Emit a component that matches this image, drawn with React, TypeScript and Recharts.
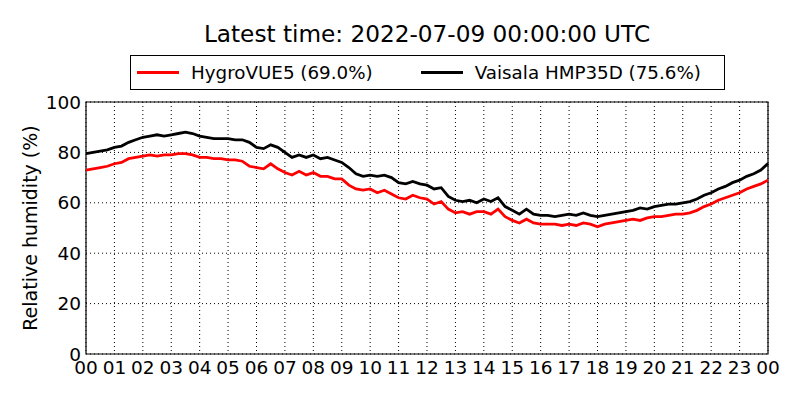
import { LineChart, Line, XAxis, YAxis, CartesianGrid, ReferenceArea } from "recharts";

// readings every 15 minutes from 00:00 to 24:00 UTC
const hygroVue = [
  73, 73.5, 74, 74.5, 75.5, 76, 77.5, 78,
  78.5, 79, 78.5, 79, 79, 79.5, 79.5, 79,
  78, 78, 77.5, 77.5, 77, 77, 76.5, 74.5,
  74, 73.5, 75.5, 73.5, 72, 71, 72.5, 71,
  72, 70.5, 70.5, 69.5, 69.5, 67, 65.5, 65,
  65.5, 64, 65, 63.5, 62, 61.5, 63, 62,
  61.5, 59.5, 60.5, 57.5, 56, 56.5, 55.5, 56.5,
  56.5, 55.5, 57.5, 54.5, 53, 52, 53.5, 52,
  51.5, 51.5, 51.5, 51, 51.5, 51, 52, 51.5,
  50.5, 51.5, 52, 52.5, 53, 53.5, 53, 54,
  54.5, 54.5, 55, 55.5, 55.5, 56, 57, 58.5,
  59.5, 61, 62, 63, 64, 65.5, 66.5, 67.5,
  69,
];

const hmp35d = [
  79.5, 80, 80.5, 81, 82, 82.5, 84, 85,
  86, 86.5, 87, 86.5, 87, 87.5, 88, 87.5,
  86.5, 86, 85.5, 85.5, 85.5, 85, 85, 84,
  82, 81.5, 83, 82, 80, 78, 79, 78,
  79, 77.5, 78, 77, 76, 74, 71.5, 70.5,
  71, 70.5, 71, 70, 68, 67.5, 68.5, 67.5,
  67, 65.5, 66, 62.5, 61, 60.5, 61, 60,
  61.5, 60.5, 62, 58.5, 57, 55.5, 57.5, 55.5,
  55, 55, 54.5, 55, 55.5, 55, 56, 55,
  54.5, 55, 55.5, 56, 56.5, 57, 58, 57.5,
  58.5, 59, 59.5, 59.5, 60, 60.5, 61.5, 63,
  64, 65.5, 66.5, 68, 69, 70.5, 71.5, 73,
  75.6,
];

const hourTicks = [0, 1, 2, 3, 4, 5, 6, 7, 8, 9, 10, 11, 12, 13, 14, 15, 16, 17, 18, 19, 20, 21, 22, 23, 24];
const humidityTicks = [0, 20, 40, 60, 80, 100];

const seriesNames = ["HygroVUE5 (69.0%)", "Vaisala HMP35D (75.6%)"];
const seriesColors = ["#ff0000", "#000000"];

const data = hygroVue.map((v, i) => ({ hour: i / 4, hygro: v, vaisala: hmp35d[i] }));

const font = "'DejaVu Sans', sans-serif";

const LegendBox = () => (
  <div style={{
    position: 'absolute', left: 130, top: 55,
    border: '1px solid #000',
    width: 595,
    height: 35,
    display: 'flex',
    alignItems: 'center',
    fontFamily: font,
    fontSize: 18.3,
    background: '#fff',
    boxSizing: 'border-box',
  }}>
    {seriesNames.map((name, i) => (
      <div key={name} style={{ display: 'flex', alignItems: 'center', marginLeft: i === 0 ? 6 : 48 }}>
        <div style={{ width: 42, height: 2.5, background: seriesColors[i], marginRight: 12 }} />
        <span>{name}</span>
      </div>
    ))}
  </div>
);

const YLabel = () => (
  <text x={30} y={228} transform="rotate(-90, 30, 228)" textAnchor="middle" dominantBaseline="central"
    fontFamily={font} fontSize={19} fill="#000">
    Relative humidity (%)
  </text>
);

const App = () => {
  return (
    <div style={{ position: 'absolute', left: 0, top: 0, width: 800, height: 400, background: '#fff' }}>
      <LineChart width={800} height={400} data={data} margin={{ top: 102, right: 32, bottom: 16, left: 0 }}>
        <CartesianGrid stroke="#000" strokeDasharray="1 3" strokeWidth={1} />
        <XAxis dataKey="hour" type="number" domain={[0, 24]} ticks={hourTicks} height={30}
          tickFormatter={(h) => String(h % 24).padStart(2, '0')}
          tickLine={false} tickSize={0} tickMargin={7} axisLine={false}
          tick={{ fill: '#000', fontSize: 18.5, fontFamily: font }} interval={0} />
        <YAxis type="number" domain={[0, 100]} ticks={humidityTicks} width={86}
          tickLine={false} tickSize={0} tickMargin={5} axisLine={false}
          tick={{ fill: '#000', fontSize: 18.5, fontFamily: font }}
          label={{ content: () => <YLabel /> }} />
        <Line type="linear" dataKey="hygro" stroke={seriesColors[0]} strokeWidth={2.8} dot={false} isAnimationActive={false} />
        <Line type="linear" dataKey="vaisala" stroke={seriesColors[1]} strokeWidth={2.8} dot={false} isAnimationActive={false} />
        <ReferenceArea x1={0} x2={24} y1={0} y2={100} fill="none" stroke="#000" strokeWidth={1.2} />
      </LineChart>
      <div style={{
        position: 'absolute', left: 86, width: 682, top: 19, textAlign: 'center',
        fontFamily: font, fontSize: 23.2, lineHeight: '30px',
      }}>
        Latest time: 2022-07-09 00:00:00 UTC
      </div>
      <LegendBox />
    </div>
  );
};

export default App;
